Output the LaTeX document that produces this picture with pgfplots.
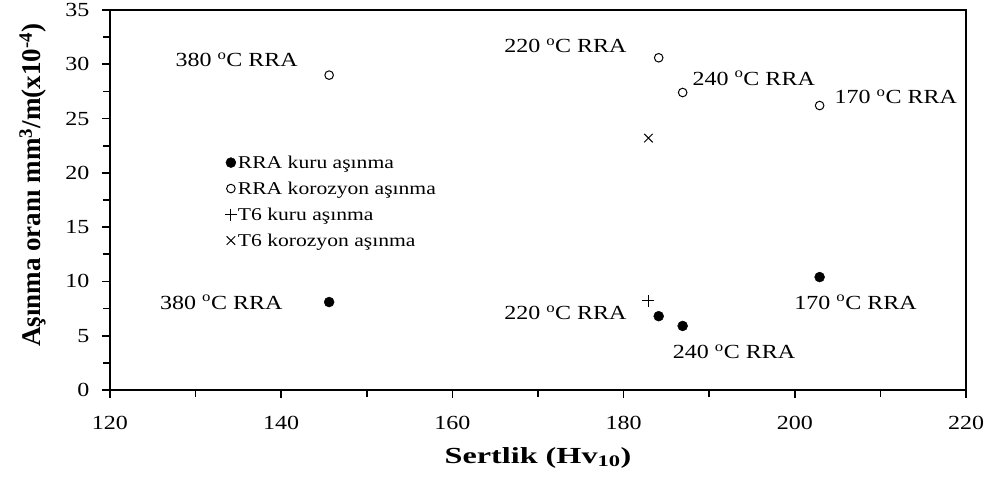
\documentclass[border=0pt]{standalone}
\usepackage{fontspec}
\setmainfont{Liberation Serif}[FakeStretch=1.2]
\newfontfamily\ylabfont{Liberation Serif}
\newfontfamily\xlabfont{Liberation Serif}[FakeStretch=1.4]
\usepackage{pgfplots}
\pgfplotsset{compat=1.18}
\begin{document}
\begin{tikzpicture}[x=1pt,y=1pt]
\path[use as bounding box] (0,0) rectangle (989,479);
\begin{axis}[
  at={(110pt,89pt)}, anchor=south west,
  width=856pt, height=380pt, scale only axis,
  xmin=120, xmax=220, ymin=0, ymax=35,
  xtick={120,140,...,220}, ytick={0,5,...,35},
  minor x tick num=1, minor y tick num=1,
  tick align=outside, xtick pos=left, ytick pos=left,
  major tick length=8pt, minor tick length=7pt,
  axis line style={line width=1.6pt},
  tick style={line width=1.6pt, black},
  minor tick style={line width=1.6pt, black},
  /pgf/number format/assume math mode=true,
  tick label style={font=\fontsize{20}{22}\selectfont},
  xticklabel style={yshift=-15pt},
  yticklabel style={xshift=-9pt},
  xlabel={\xlabfont\bfseries Sertlik (Hv\textsubscript{10})},
  xlabel style={font=\fontsize{23}{25}\selectfont, at={(axis description cs:0.5,-0.178)}, anchor=center},
  ylabel={\ylabfont\bfseries Aşınma oranı mm\textsuperscript{3}/m(x10\textsuperscript{-4})},
  ylabel style={font=\fontsize{27}{29}\selectfont, at={(axis description cs:-0.090,0.539)}, anchor=center},
  legend style={draw=none, fill=none, at={(0.134,0.620)}, anchor=north west,
    font=\fontsize{18}{20}\selectfont, row sep=10pt, inner sep=0pt,
    nodes={inner sep=1pt}},
  legend cell align=left,
  clip=false,
]
\addplot[only marks, mark=*, mark size=5pt, black] coordinates {
  (145.6,8.1) (184.1,6.8) (186.9,5.9) (202.9,10.4)};
\addlegendentry{RRA kuru aşınma}
\addplot[only marks, mark=o, mark size=4.3pt, black, line width=1pt] coordinates {
  (145.6,29.0) (184.1,30.6) (186.9,27.4) (202.9,26.2)};
\addlegendentry{RRA korozyon aşınma}
\addplot[only marks, mark=+, mark size=6pt, black, line width=1pt] coordinates {
  (182.9,8.2)};
\addlegendentry{T6 kuru aşınma}
\addplot[only marks, mark=x, mark size=6pt, black, line width=1pt] coordinates {
  (182.9,23.2)};
\addlegendentry{T6 korozyon aşınma}
\begin{scope}[every node/.style={font=\fontsize{20}{22}\selectfont}]
\node at (axis cs:134.8,30.4) {380 \textsuperscript{o}C RRA};
\node at (axis cs:173.2,31.7) {220 \textsuperscript{o}C RRA};
\node at (axis cs:195.2,28.7) {240 \textsuperscript{o}C RRA};
\node at (axis cs:211.8,27.0) {170 \textsuperscript{o}C RRA};
\node at (axis cs:133.0,8.1) {380 \textsuperscript{o}C RRA};
\node at (axis cs:173.2,7.1) {220 \textsuperscript{o}C RRA};
\node at (axis cs:192.9,3.5) {240 \textsuperscript{o}C RRA};
\node at (axis cs:207.1,8.1) {170 \textsuperscript{o}C RRA};
\end{scope}
\end{axis}
\end{tikzpicture}
\end{document}
